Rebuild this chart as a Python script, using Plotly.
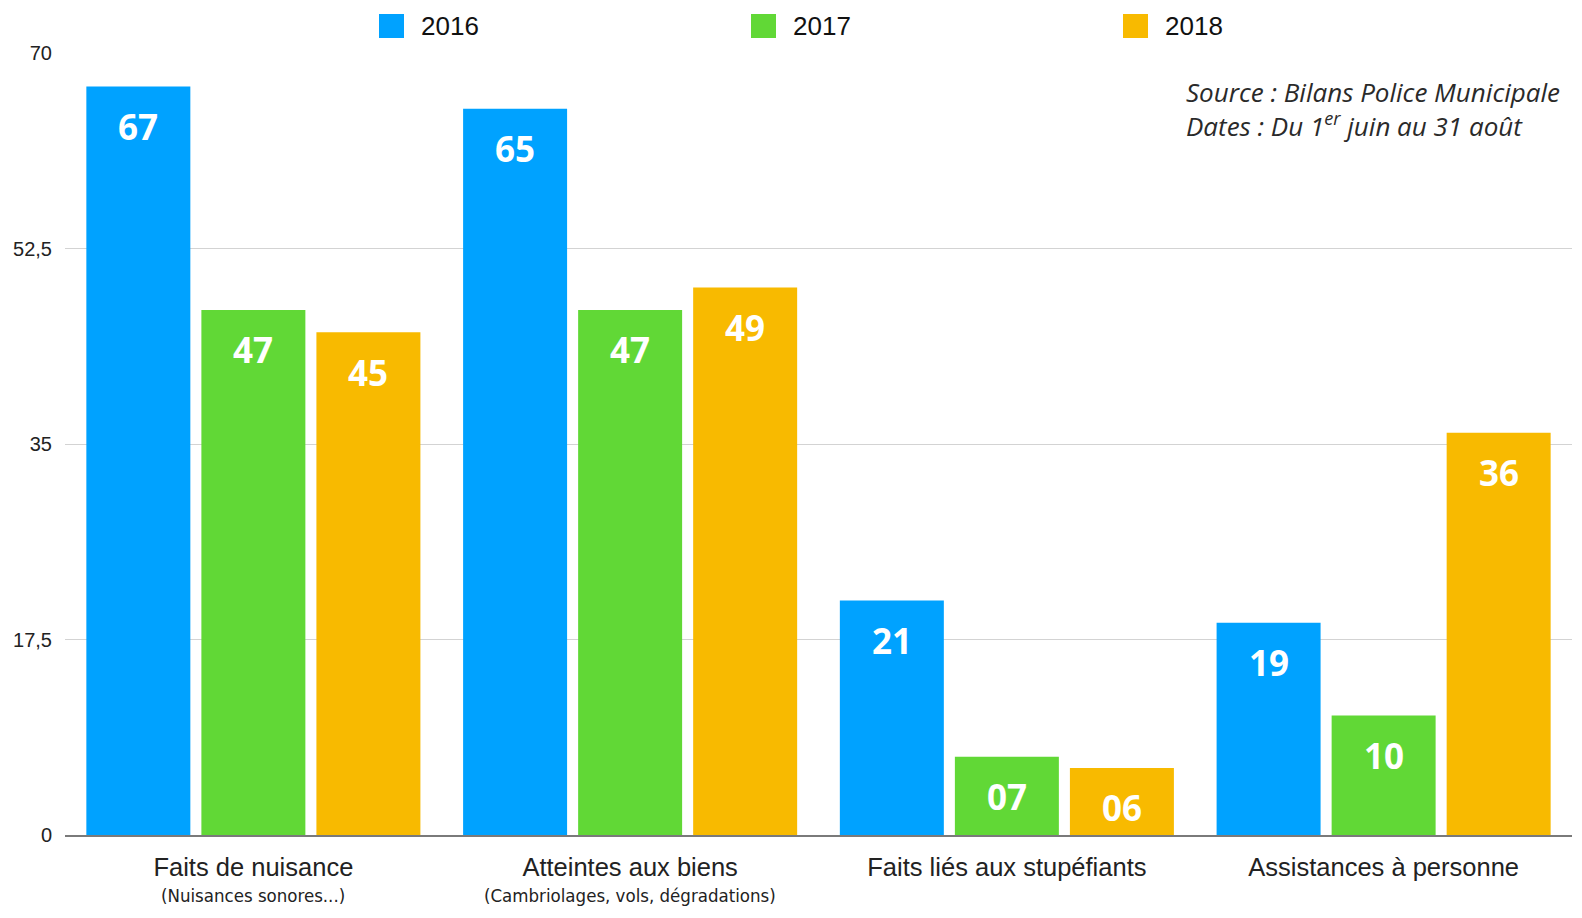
import plotly.graph_objects as go

# ---- data ----
categories = ["Faits de nuisance", "Atteintes aux biens", "Faits liés aux stupéfiants", "Assistances à personne"]
subtitles = ["(Nuisances sonores...)", "(Cambriolages, vols, dégradations)", "", ""]
years = ["2016", "2017", "2018"]
values_2016 = [67, 65, 21, 19]
values_2017 = [47, 47, 7, 10.7]
values_2018 = [45, 49, 6, 36]
labels_2016 = ["67", "65", "21", "19"]
labels_2017 = ["47", "47", "07", "10"]
labels_2018 = ["45", "49", "06", "36"]
y_tickvals = [0, 17.5, 35, 52.5, 70]
y_ticktext = ["0", "17,5", "35", "52,5", "70"]
source_lines = ["Source : Bilans Police Municipale", "Dates : Du 1<sup>er</sup> juin au 31 août"]

series = [
    (years[0], values_2016, labels_2016, "#00A2FF"),
    (years[1], values_2017, labels_2017, "#61D836"),
    (years[2], values_2018, labels_2018, "#F8BA00"),
]

W, H = 1582, 918
ML, MR, MT, MB = 65, 10, 53, 83
PW, PH = W - ML - MR, H - MT - MB
BARGAP, GROUPGAP = 0.084, 0.096


def px_x(x):
    return (x - ML) / PW


def px_y(y):
    return (H - MB - y) / PH


fig = go.Figure()
xs = list(range(len(categories)))
for name, vals, _, col in series:
    fig.add_trace(go.Bar(x=xs, y=vals, name=name, marker=dict(color=col, line=dict(width=0)),
                         showlegend=False, hoverinfo="y+name"))

annotations = []
slot = (1 - BARGAP) / len(series)
for j, (name, vals, labs, col) in enumerate(series):
    off = (j - (len(series) - 1) / 2) * slot
    for i, (v, t) in enumerate(zip(vals, labs)):
        annotations.append(dict(x=i + off, y=v, xref="x", yref="y", text="<b>" + t + "</b>",
                                showarrow=False, yanchor="middle", xanchor="center", yshift=-40,
                                font=dict(family="Open Sans", size=35, color="white", weight=800)))

# manual legend (large square swatches)
shapes = []
legend_left = [379, 751, 1123]
for (name, _, _, col), lx in zip(series, legend_left):
    shapes.append(dict(type="rect", xref="paper", yref="paper",
                       x0=px_x(lx), x1=px_x(lx + 25), y0=px_y(38), y1=px_y(14),
                       fillcolor=col, line=dict(width=0)))
    annotations.append(dict(x=px_x(lx + 40), y=px_y(26), xref="paper", yref="paper",
                            text=name, showarrow=False, xanchor="left", yanchor="middle",
                            font=dict(family="Liberation Sans", size=26, color="#111")))

annotations.append(dict(x=px_x(1184), y=px_y(109), xref="paper", yref="paper",
                        text="<i>" + "<br>".join(source_lines) + "</i>",
                        showarrow=False, xanchor="left", yanchor="middle", align="left",
                        font=dict(family="Open Sans", size=26, color="#2a2a2a")))

# category subtitles
for i, s in enumerate(subtitles):
    if s:
        annotations.append(dict(x=i, y=px_y(895), xref="x", yref="paper", text=s,
                                showarrow=False, xanchor="center", yanchor="middle",
                                font=dict(family="DejaVu Sans Condensed", size=18.5, color="#222")))

fig.update_layout(
    width=W, height=H, autosize=False,
    margin=dict(l=ML, r=MR, t=MT, b=MB, pad=0),
    plot_bgcolor="white", paper_bgcolor="white",
    barmode="group", bargap=BARGAP, bargroupgap=GROUPGAP,
    shapes=shapes, annotations=annotations,
    xaxis=dict(tickvals=xs, ticktext=categories, range=[-0.5, len(categories) - 0.5],
               showgrid=False, zeroline=False, showline=True, linecolor="#7a7a7a", linewidth=2,
               ticks="", ticklabelstandoff=8,
               tickfont=dict(family="Liberation Sans", size=25.5, color="#222")),
    yaxis=dict(range=[0, 70], tickvals=y_tickvals, ticktext=y_ticktext,
               showgrid=True, gridcolor="#d3d3d3", gridwidth=1, zeroline=False,
               ticks="", ticklabelstandoff=12,
               tickfont=dict(family="Liberation Sans", size=20, color="#222")),
    font=dict(family="Liberation Sans"),
)

fig.write_html("out.html")
